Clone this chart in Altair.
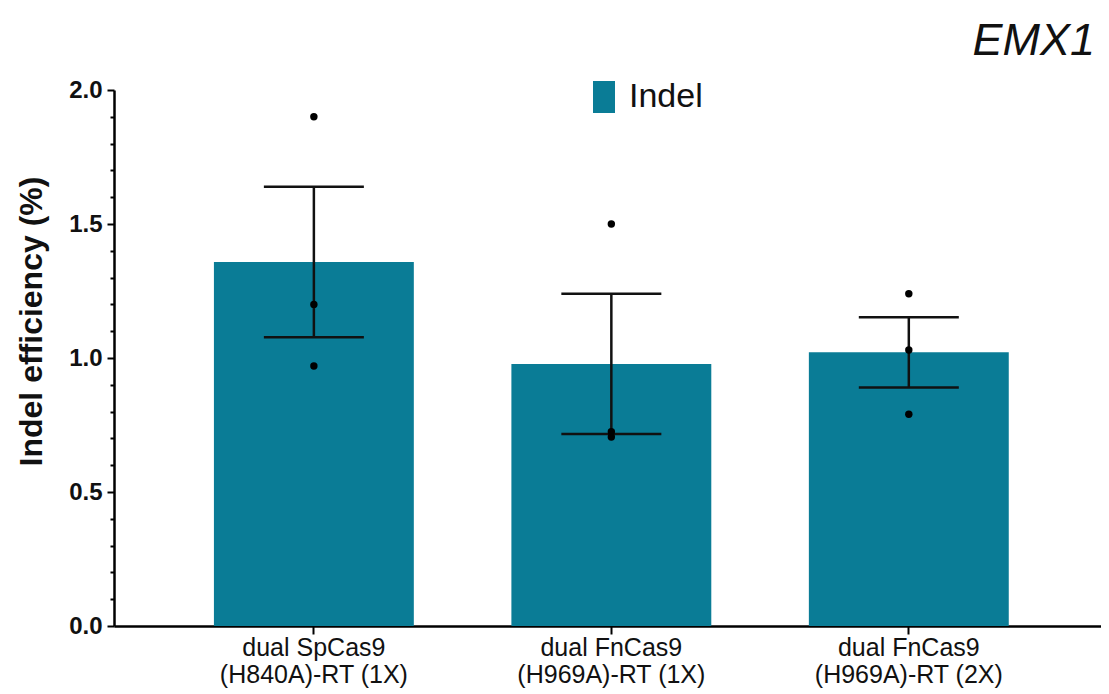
import altair as alt
import pandas as pd

# ---- data ----
categories = ["dual SpCas9|(H840A)-RT (1X)", "dual FnCas9|(H969A)-RT (1X)", "dual FnCas9|(H969A)-RT (2X)"]
means = [1.358, 0.978, 1.021]
sems = [0.281, 0.262, 0.131]
point_cats = [categories[0]] * 3 + [categories[1]] * 3 + [categories[2]] * 3
point_vals = [1.90, 1.20, 0.97, 1.50, 0.725, 0.705, 1.24, 1.03, 0.79]
series_name = "Indel"
chart_title = "EMX1"
major_ticks = [0, 0.5, 1.0, 1.5, 2.0]
minor_ticks = [0.1, 0.2, 0.3, 0.4, 0.6, 0.7, 0.8, 0.9, 1.1, 1.2, 1.3, 1.4, 1.6, 1.7, 1.8, 1.9]

df_bar = pd.DataFrame({
    "cat": categories,
    "mean": means,
    "lo": [m - s for m, s in zip(means, sems)],
    "hi": [m + s for m, s in zip(means, sems)],
    "series": [series_name] * len(categories),
})
df_pts = pd.DataFrame({"cat": point_cats, "val": point_vals})
df_title = pd.DataFrame({"t": [chart_title]})

FONT = "Liberation Sans"
TEAL = "#0A7C96"
W, H = 987, 536

x_scale = alt.Scale(domain=categories, paddingInner=0.328, paddingOuter=0.323, align=0.52)
x_axis = alt.Axis(
    title=None, labelExpr="split(datum.label, '|')", labelAngle=0, labelLimit=0,
    labelFont=FONT, labelFontSize=25, labelColor="#111", labelLineHeight=27,
    labelPadding=1, tickSize=8, tickWidth=2, tickColor="#000",
    domainColor="#000", domainWidth=2.5,
)
X = alt.X("cat:N", scale=x_scale, axis=x_axis, sort=categories)
y_scale = alt.Scale(domain=[0, 2], nice=False, zero=True)

rect_path = "M-0.6875,-1H0.6875V1H-0.6875Z"

bars = alt.Chart(df_bar).mark_bar(color=TEAL).encode(
    x=X,
    y=alt.Y("mean:Q", scale=y_scale, axis=alt.Axis(
        orient="left", values=major_ticks, format=".1f",
        title="Indel efficiency (%)", titleFont=FONT, titleFontSize=32,
        titleFontWeight="bold", titleColor="#111", titleAngle=-90,
        titleX=-83, titleY=231, titleAlign="center", titleBaseline="middle",
        labelFont=FONT, labelFontSize=24, labelFontWeight="bold", labelColor="#111",
        labelPadding=5, tickSize=7, tickWidth=2, tickColor="#000",
        domainColor="#000", domainWidth=2.5, grid=False,
    )),
    color=alt.Color("series:N", scale=alt.Scale(domain=[series_name], range=[TEAL]),
                    legend=alt.Legend(
                        orient="none", legendX=473, legendY=-10, title=None,
                        symbolType=rect_path, symbolSize=1024, symbolStrokeWidth=0,
                        labelFont=FONT, labelFontSize=34, labelColor="#111",
                        labelOffset=8, padding=0,
                    )),
)

err_rule = alt.Chart(df_bar).mark_rule(color="#111", strokeWidth=2.5).encode(
    x=X,
    y=alt.Y("lo:Q", scale=y_scale, axis=None),
    y2="hi:Q",
)
err_lo = alt.Chart(df_bar).mark_tick(color="#111", size=100, thickness=2.5, opacity=1).encode(
    x=X, y=alt.Y("lo:Q", scale=y_scale, axis=None),
)
err_hi = alt.Chart(df_bar).mark_tick(color="#111", size=100, thickness=2.5, opacity=1).encode(
    x=X, y=alt.Y("hi:Q", scale=y_scale, axis=None),
)
points = alt.Chart(df_pts).mark_circle(color="#000", size=55, opacity=1).encode(
    x=X,
    y=alt.Y("val:Q", scale=y_scale, axis=alt.Axis(
        orient="left", values=minor_ticks, labels=False, domain=False,
        title=None, tickSize=4, tickWidth=2, tickColor="#000", grid=False,
    )),
)
title_txt = alt.Chart(df_title).mark_text(
    font=FONT, fontSize=45, fontStyle="italic", color="#111",
    align="right", baseline="alphabetic",
).encode(text="t:N", x=alt.value(W - 6), y=alt.value(-35))

chart = alt.layer(bars, err_rule, err_lo, err_hi, points, title_txt).resolve_axis(
    y="independent"
).properties(
    width=W, height=H,
    autosize=alt.AutoSizeParams(type="none"),
    padding={"left": 106, "top": 82, "right": 0, "bottom": 65},
).configure_view(stroke=None).configure_axis(grid=False)

chart.save("out.html", embed_options={"renderer": "svg", "actions": False})
